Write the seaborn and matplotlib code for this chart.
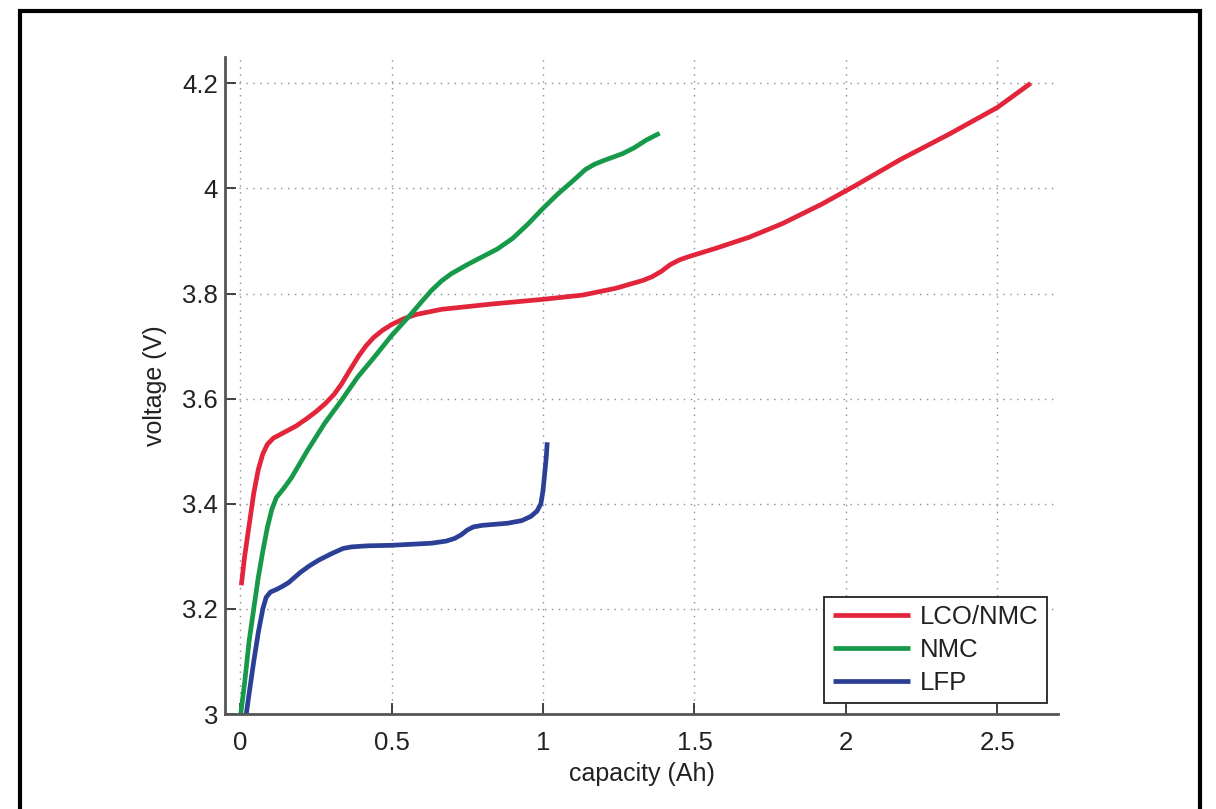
import numpy as np
import pandas as pd
import matplotlib
matplotlib.use("Agg")
import matplotlib.pyplot as plt
import seaborn as sns
from matplotlib.patches import Rectangle

series_names = ["LCO/NMC", "NMC", "LFP"]
colors = ["#e2253a", "#17994a", "#2b3f96"]

lco_cap = [0.004, 0.015, 0.03, 0.045, 0.06, 0.075, 0.09, 0.11, 0.146, 0.185, 0.22, 0.25,
           0.28, 0.31, 0.335, 0.36, 0.39, 0.415, 0.44, 0.47, 0.5, 0.54, 0.58, 0.665,
           0.83, 1.0, 1.13, 1.24, 1.33, 1.36, 1.39, 1.42, 1.45, 1.48, 1.57, 1.68, 1.79,
           1.92, 2.03, 2.18, 2.34, 2.5, 2.61]
lco_v = [3.245, 3.30, 3.36, 3.42, 3.465, 3.495, 3.513, 3.525, 3.536, 3.548, 3.562, 3.575,
         3.59, 3.608, 3.628, 3.652, 3.68, 3.70, 3.716, 3.73, 3.741, 3.752, 3.76, 3.77,
         3.78, 3.789, 3.797, 3.81, 3.825, 3.832, 3.842, 3.855, 3.864, 3.87, 3.886, 3.907, 3.933,
         3.97, 4.005, 4.055, 4.103, 4.154, 4.2]

nmc_cap = [0.0, 0.015, 0.03, 0.045, 0.06, 0.075, 0.09, 0.105, 0.12, 0.145, 0.17, 0.223,
           0.279, 0.335, 0.388, 0.443, 0.5, 0.566, 0.6, 0.632, 0.665, 0.698, 0.75, 0.8,
           0.85, 0.9, 0.95, 1.0, 1.05, 1.1, 1.14, 1.17, 1.2, 1.262, 1.3, 1.341, 1.385]
nmc_v = [2.99, 3.06, 3.14, 3.20, 3.26, 3.31, 3.355, 3.39, 3.412, 3.43, 3.45, 3.502,
         3.553, 3.597, 3.641, 3.679, 3.72, 3.762, 3.785, 3.806, 3.824, 3.838, 3.855, 3.87,
         3.885, 3.905, 3.932, 3.962, 3.99, 4.015, 4.036, 4.046, 4.053, 4.066, 4.077, 4.092, 4.105]

lfp_cap = [0.018, 0.03, 0.045, 0.06, 0.075, 0.086, 0.1, 0.12, 0.14, 0.16, 0.18, 0.2,
           0.229, 0.26, 0.305, 0.34, 0.368, 0.42, 0.5, 0.632, 0.68, 0.708, 0.73, 0.75,
           0.77, 0.8, 0.883, 0.93, 0.96, 0.98, 0.993, 1.0, 1.006, 1.011, 1.014]
lfp_v = [2.99, 3.04, 3.10, 3.155, 3.20, 3.222, 3.232, 3.237, 3.243, 3.25, 3.26, 3.27,
         3.282, 3.293, 3.306, 3.315, 3.318, 3.32, 3.321, 3.325, 3.329, 3.334, 3.341, 3.35,
         3.356, 3.359, 3.363, 3.368, 3.376, 3.386, 3.40, 3.425, 3.46, 3.49, 3.517]

x_ticks = [0, 0.5, 1, 1.5, 2, 2.5]
x_tick_labels = ["0", "0.5", "1", "1.5", "2", "2.5"]
y_ticks = [3, 3.2, 3.4, 3.6, 3.8, 4, 4.2]
y_tick_labels = ["3", "3.2", "3.4", "3.6", "3.8", "4", "4.2"]

frames = []
for name, caps, vs in zip(series_names, [lco_cap, nmc_cap, lfp_cap], [lco_v, nmc_v, lfp_v]):
    frames.append(pd.DataFrame({"capacity": caps, "voltage": vs, "chem": name}))
df = pd.concat(frames, ignore_index=True)

sns.set_theme(style="white")
plt.rcParams["font.family"] = ["Liberation Sans", "DejaVu Sans"]

fig = plt.figure(figsize=(12.16, 8.09), dpi=100)
ax = fig.add_axes([0.185, 0.1174, 0.685, 0.8121])

sns.lineplot(data=df, x="capacity", y="voltage", hue="chem", hue_order=series_names,
             palette=colors, sort=False, estimator=None, linewidth=3.4, ax=ax)
for ln in ax.get_lines():
    ln.set_solid_joinstyle("round")
    ln.set_solid_capstyle("butt")

ax.set_xlim(-0.05, 2.7)
ax.set_ylim(3.0, 4.25)
ax.set_xticks(x_ticks)
ax.set_xticklabels(x_tick_labels)
ax.set_yticks(y_ticks)
ax.set_yticklabels(y_tick_labels)
ax.grid(True, linestyle=(0, (1, 4)), color="#8c8c8c", linewidth=1.0)
ax.tick_params(direction="in", length=8, width=1.3, color="#333333", labelsize=18.5,
               labelcolor="#222222", left=True, bottom=True)
ax.tick_params(axis="y", pad=5)
ax.tick_params(axis="x", pad=12)
for s in ["top", "right"]:
    ax.spines[s].set_visible(False)
for s in ["left", "bottom"]:
    ax.spines[s].set_color("#555555")
    ax.spines[s].set_linewidth(2.0)
ax.set_xlabel("capacity (Ah)", fontsize=18, color="#222222", labelpad=5)
ax.set_ylabel("voltage (V)", fontsize=18, color="#222222", labelpad=11)

leg = ax.legend(loc="lower right", bbox_to_anchor=(0.987, 0.0167), borderaxespad=0,
                fontsize=18.5, frameon=True, fancybox=False, handlelength=3.0,
                handletextpad=0.4, labelspacing=0.34, borderpad=0.33)
leg.get_frame().set_edgecolor("#222222")
leg.get_frame().set_linewidth(1.3)
leg.get_frame().set_alpha(1.0)
for t in leg.get_texts():
    t.set_color("#222222")

fig.patches.append(Rectangle((0.0164, -0.02), 0.9704, 1.0064, transform=fig.transFigure,
                             fill=False, edgecolor="black", linewidth=3))

fig.savefig("out.png", dpi=100)
